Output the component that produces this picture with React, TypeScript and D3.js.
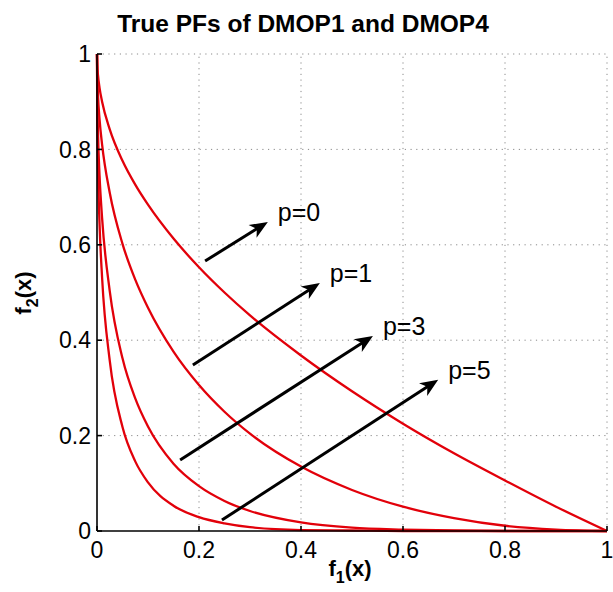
import React from "react";
import * as d3 from "d3";

// f1 sample positions, and f2
const f1Values = [0, 0.0005, 0.002, 0.005, 0.01, 0.025, 0.05, 0.075, 0.1, 0.15, 0.2, 0.25, 0.3, 0.4, 0.5, 0.6, 0.7, 0.8, 0.9, 1];
const p0Values = [1, 0.978, 0.955, 0.929, 0.9, 0.842, 0.776, 0.726, 0.684, 0.613, 0.553, 0.5, 0.452, 0.368, 0.293, 0.225, 0.163, 0.106, 0.051, 0];
const p1Values = [1, 0.956, 0.912, 0.863, 0.81, 0.709, 0.602, 0.527, 0.468, 0.376, 0.306, 0.25, 0.204, 0.135, 0.086, 0.051, 0.027, 0.011, 0.003, 0];
const p3Values = [1, 0.914, 0.832, 0.745, 0.656, 0.503, 0.362, 0.278, 0.219, 0.141, 0.094, 0.063, 0.042, 0.018, 0.007, 0.003, 0.001, 0, 0, 0];
const p5Values = [1, 0.874, 0.759, 0.643, 0.531, 0.357, 0.218, 0.146, 0.102, 0.053, 0.029, 0.016, 0.008, 0.002, 0.001, 0, 0, 0, 0, 0];
const curves = [p0Values, p1Values, p3Values, p5Values];

const tickValues = [0, 0.2, 0.4, 0.6, 0.8, 1];
const tickLabels = ["0", "0.2", "0.4", "0.6", "0.8", "1"];

// annotation arrows (data units): label, start, tip
const arrowLabels = ["p=0", "p=1", "p=3", "p=5"];
const arrowStart = [[0.212, 0.566], [0.188, 0.348], [0.163, 0.149], [0.245, 0.023]];
const arrowTip = [[0.335, 0.648], [0.437, 0.52], [0.541, 0.409], [0.669, 0.317]];

const width = 613;
const height = 592;
const margin = { left: 97, right: 6, top: 54, bottom: 61 };
const font = "'Liberation Sans', Arial, Helvetica, sans-serif";

const x = d3.scaleLinear().domain([0, 1]).range([margin.left, width - margin.right]);
const y = d3.scaleLinear().domain([0, 1]).range([height - margin.bottom, margin.top]);

const line = d3
  .line<number>()
  .x((_, i) => x(f1Values[i]))
  .y((d) => y(d))
  .curve(d3.curveMonotoneX);

function arrowHead(x1: number, y1: number, x2: number, y2: number) {
  const len = 18, half = 7.5, back = 13;
  const a = Math.atan2(y2 - y1, x2 - x1);
  const c = Math.cos(a), s = Math.sin(a);
  const bx = x2 - len * c, by = y2 - len * s;
  const nx = x2 - back * c, ny = y2 - back * s;
  return `M${x2},${y2}L${bx - half * s},${by + half * c}L${nx},${ny}L${bx + half * s},${by - half * c}Z`;
}

export default function App() {
  const x0 = x(0), y0 = y(0);
  return (
    <svg width={width} height={height} style={{ position: "absolute", left: 0, top: 0, background: "#fff" }}>
      {/* grid */}
      <g stroke="#8a8a8a" strokeWidth={1} strokeDasharray="1.2,4.5">
        {tickValues.slice(1).map((t) => (
          <line key={"gx" + t} x1={x(t)} x2={x(t)} y1={y(0)} y2={y(1)} />
        ))}
        {tickValues.slice(1).map((t) => (
          <line key={"gy" + t} x1={x(0)} x2={x(1)} y1={y(t)} y2={y(t)} />
        ))}
      </g>

      {/* curves */}
      <g fill="none" stroke="#e2000a" strokeWidth={2.3}>
        {curves.map((c, i) => (
          <path key={i} d={line(c) || ""} />
        ))}
      </g>

      {/* axes */}
      <g stroke="#000" strokeWidth={1.6}>
        <line x1={x0} x2={x(1)} y1={y0} y2={y0} />
        <line x1={x0} x2={x0} y1={y0} y2={y(1)} />
        {tickValues.map((t) => (
          <line key={"tx" + t} x1={x(t)} x2={x(t)} y1={y0} y2={y0 - 5} />
        ))}
        {tickValues.map((t) => (
          <line key={"ty" + t} x1={x0} x2={x0 + 5} y1={y(t)} y2={y(t)} />
        ))}
      </g>

      {/* tick labels */}
      <g fontFamily={font} fontSize={23} fill="#000">
        {tickValues.map((t, i) => (
          <text key={"lx" + t} x={x(t)} y={y0 + 27} textAnchor="middle">
            {tickLabels[i]}
          </text>
        ))}
        {tickValues.map((t, i) => (
          <text key={"ly" + t} x={x0 - 6} y={y(t)} dy="0.36em" textAnchor="end">
            {tickLabels[i]}
          </text>
        ))}
      </g>

      {/* arrows */}
      {arrowLabels.map((lab, i) => {
        const sx = x(arrowStart[i][0]), sy = y(arrowStart[i][1]);
        const tx = x(arrowTip[i][0]), ty = y(arrowTip[i][1]);
        const a = Math.atan2(ty - sy, tx - sx);
        return (
          <g key={lab}>
            <line x1={sx} y1={sy} x2={tx - 12 * Math.cos(a)} y2={ty - 12 * Math.sin(a)} stroke="#000" strokeWidth={3} />
            <path d={arrowHead(sx, sy, tx, ty)} fill="#000" />
            <text x={tx + 10} y={ty - 1} fontFamily={font} fontSize={25} fill="#000">
              {lab}
            </text>
          </g>
        );
      })}

      {/* title and axis labels */}
      <text x={303} y={32} textAnchor="middle" fontFamily={font} fontSize={24.5} fontWeight="bold">
        True PFs of DMOP1 and DMOP4
      </text>
      <text x={350} y={576} textAnchor="middle" fontFamily={font} fontSize={22} fontWeight="bold">
        f<tspan fontSize={16} dy={7}>1</tspan>
        <tspan dy={-7}>(x)</tspan>
      </text>
      <text transform="translate(31,293) rotate(-90)" textAnchor="middle" fontFamily={font} fontSize={22} fontWeight="bold">
        f<tspan fontSize={16} dy={7}>2</tspan>
        <tspan dy={-7}>(x)</tspan>
      </text>
    </svg>
  );
}
